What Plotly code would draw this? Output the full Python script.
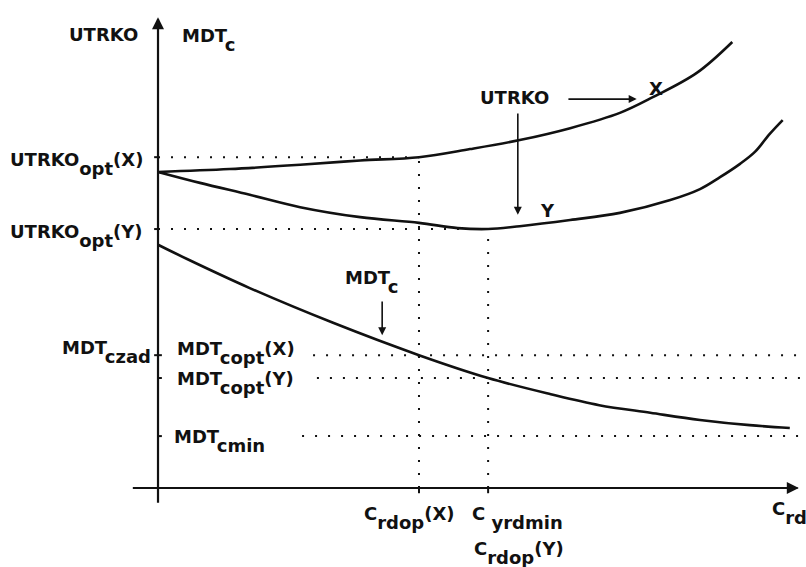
import plotly.graph_objects as go

# ---- data (schematic units: origin at axes crossing, axis ends ~100) ----
crd_x_curve = [0, 11.1, 22.0, 31.3, 40.4, 48.3, 56.0, 63.8, 71.5, 76.6, 83.4, 88.9]
utrko_x = [66.4, 67.0, 67.9, 68.8, 69.5, 71.2, 73.1, 75.6, 78.8, 82.1, 87.2, 93.7]

crd_y_curve = [0, 6.5, 14.2, 22.0, 31.3, 40.4, 46.4, 51.1, 56.0, 63.8, 71.5, 79.3, 83.9, 87.0, 90.1, 92.4, 94.7, 96.7]
utrko_y = [66.4, 64.1, 61.6, 59.0, 56.9, 55.7, 54.6, 54.4, 55.0, 56.3, 57.8, 60.5, 62.8, 65.3, 68.1, 70.6, 74.4, 77.3]

crd_mdt = [0, 4.5, 14.2, 27.1, 40.4, 51.1, 60.8, 68.3, 76.2, 83.9, 91.6, 97.8]
mdt_c = [51.1, 48.1, 42.0, 34.7, 27.9, 23.1, 19.7, 17.4, 15.8, 14.3, 13.2, 12.6]

# reference levels
UTRKO_OPT_X = 69.5
UTRKO_OPT_Y = 54.4
MDT_COPT_X = 27.9
MDT_COPT_Y = 23.1
MDT_CMIN = 10.9
CRDOP_X = 40.4
CYRDMIN = 51.1
X_END = 100.0
Y_TOP = 100.0

FONT = "DejaVu Sans"
BLACK = "#111111"

fig = go.Figure()

def curve(x, y):
    fig.add_trace(go.Scatter(x=x, y=y, mode="lines",
                             line=dict(color=BLACK, width=2.6, shape="spline", smoothing=1.0),
                             showlegend=False, hoverinfo="skip"))

def dotted(x, y):
    fig.add_trace(go.Scatter(x=x, y=y, mode="lines",
                             line=dict(color=BLACK, width=2, dash="2px,11px"),
                             showlegend=False, hoverinfo="skip"))

# dotted guides
dotted([0, CRDOP_X], [UTRKO_OPT_X, UTRKO_OPT_X])
dotted([0, CYRDMIN], [UTRKO_OPT_Y, UTRKO_OPT_Y])
dotted([CRDOP_X, CRDOP_X], [0, UTRKO_OPT_X])
dotted([CYRDMIN, CYRDMIN], [0, UTRKO_OPT_Y])
dotted([24.0, X_END], [MDT_COPT_X, MDT_COPT_X])
dotted([24.6, X_END], [MDT_COPT_Y, MDT_COPT_Y])
dotted([22.3, X_END], [MDT_CMIN, MDT_CMIN])

curve(crd_x_curve, utrko_x)
curve(crd_y_curve, utrko_y)
curve(crd_mdt, mdt_c)

# axes lines
fig.add_shape(type="line", x0=0, x1=0, y0=-3.1, y1=Y_TOP - 1.5, line=dict(color=BLACK, width=2.2))
fig.add_shape(type="line", x0=-3.9, x1=X_END - 1.0, y0=0, y1=0, line=dict(color=BLACK, width=2.2))

# axis arrowheads (markers)
fig.add_trace(go.Scatter(x=[0], y=[Y_TOP - 1.1], mode="markers",
                         marker=dict(symbol="arrow-up", size=12, color=BLACK),
                         showlegend=False, hoverinfo="skip"))
fig.add_trace(go.Scatter(x=[X_END - 0.8], y=[0], mode="markers",
                         marker=dict(symbol="arrow-right", size=12, color=BLACK),
                         showlegend=False, hoverinfo="skip"))

# tick marks
for yv in [UTRKO_OPT_X, UTRKO_OPT_Y, MDT_COPT_X]:
    fig.add_shape(type="line", x0=-0.6, x1=0, y0=yv, y1=yv, line=dict(color=BLACK, width=2))
for yv in [MDT_COPT_X, MDT_COPT_Y, MDT_CMIN]:
    fig.add_shape(type="line", x0=0, x1=0.6, y0=yv, y1=yv, line=dict(color=BLACK, width=2))
for xv in [CRDOP_X, CYRDMIN]:
    fig.add_shape(type="line", x0=xv, x1=xv, y0=0, y1=-1.1, line=dict(color=BLACK, width=2))

def arrow(x0, y0, x1, y1, w=1.6, size=1.0):
    fig.add_annotation(x=x1, y=y1, ax=x0, ay=y0, xref="x", yref="y", axref="x", ayref="y",
                       showarrow=True, arrowhead=2, arrowsize=size, arrowwidth=w,
                       arrowcolor=BLACK, text="")

# annotation arrows
arrow(63.3, 81.7, 74.1, 81.7)
arrow(55.7, 79.0, 55.7, 57.4)
arrow(34.7, 39.5, 34.7, 32.1)

def sub(main, s, tail=""):
    return (f"{main}<span style='font-size:18px;baseline-shift:-9px'>{s}</span>"
            f"{tail}")

def label(text, x, y, xanchor="left", yanchor="middle"):
    fig.add_annotation(x=x, y=y, xref="x", yref="y", text=text, showarrow=False,
                       xanchor=xanchor, yanchor=yanchor,
                       font=dict(family=FONT, size=18, color=BLACK, weight="bold"))

D = 1.1  # vertical compensation for subscript labels
label("UTRKO", -2.8, 95.2, xanchor="right")
label(sub("MDT", "c"), 3.4, 95.2 - D)
label(sub("UTRKO", "opt", "(X)"), -2.0, 69.1 - D, xanchor="right")
label(sub("UTRKO", "opt", "(Y)"), -2.0, 54.0 - D, xanchor="right")
label(sub("MDT", "czad"), -0.8, 29.6 - D, xanchor="right")
label(sub("MDT", "copt", "(X)"), 2.6, 29.4 - D)
label(sub("MDT", "copt", "(Y)"), 2.6, 23.1 - D)
label(sub("MDT", "cmin"), 2.2, 10.9 - D)
label(sub("MDT", "c"), 28.6, 44.3 - D)
label("UTRKO", 49.5, 82.1)
label("X", 75.7, 84.0)
label("Y", 58.8, 58.4)
label(sub("C", "rdop", "(X)"), 31.6, -5.3 - D)
label(sub("C ", "yrdmin"), 48.3, -5.3 - D)
label(sub("C", "rdop", "(Y)"), 48.6, -12.6 - D)
label(sub("C", "rd"), 94.7, -4.2 - D)

fig.update_layout(
    width=806, height=567,
    margin=dict(l=0, r=0, t=0, b=0),
    paper_bgcolor="white", plot_bgcolor="white",
    xaxis=dict(range=[-24.46, 100.31], visible=False, fixedrange=True),
    yaxis=dict(range=[-16.6, 102.52], visible=False, fixedrange=True),
    showlegend=False,
)

fig.write_html("out.html")
